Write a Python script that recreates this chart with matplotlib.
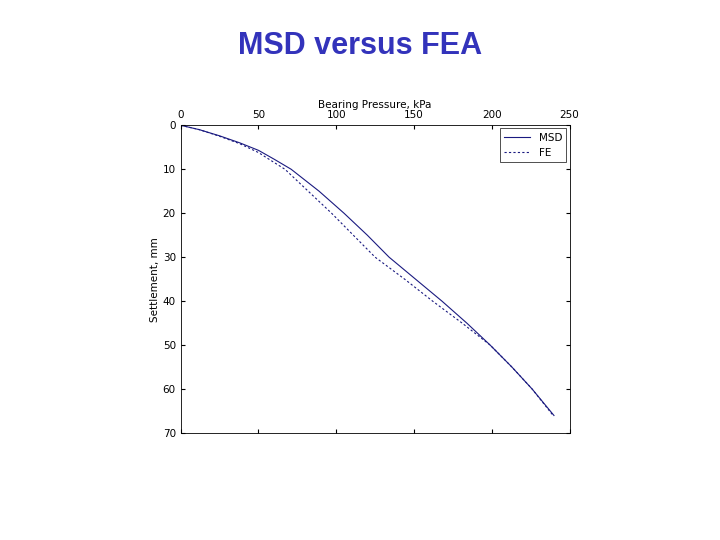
import matplotlib
matplotlib.use("Agg")
import matplotlib.pyplot as plt

# bearing pressure (kPa) vs settlement (mm)
msd_p = [0, 12, 25, 38, 50, 60, 71, 89, 105, 120, 134, 151, 168, 184, 199, 213, 226, 240]
msd_s = [0, 1, 2.4, 4, 5.7, 7.7, 10, 15, 20, 25, 30, 35, 40, 45, 50, 55, 60, 66]
fe_p = [0, 12, 25, 38, 50, 58, 67, 82, 97, 111, 125, 144, 162, 181, 199, 213, 226, 239]
fe_s = [0, 1, 2.5, 4.2, 6.2, 8, 10, 15, 20, 25, 30, 35, 40, 45, 50, 55, 60, 65.8]

fig = plt.figure(figsize=(7.2, 5.4), dpi=100)
fig.text(0.5, 0.915, "MSD versus FEA", ha="center", va="center",
         fontsize=22, fontweight="bold", color="#3333bb",
         family="Liberation Sans")

ax = fig.add_axes([0.251, 0.198, 0.540, 0.570])
ax.plot(msd_p, msd_s, color="#1a1a80", lw=0.8, label="MSD")
ax.plot(fe_p, fe_s, color="#1a1a80", lw=0.8, ls=(0, (2, 2)), label="FE")
ax.set_xlim(0, 250)
ax.set_ylim(70, 0)
ax.xaxis.tick_top()
ax.xaxis.set_label_position("top")
ax.tick_params(direction="in", labelsize=7.5, length=3, top=True, bottom=True,
               left=True, right=True)
ax.set_xlabel("Bearing Pressure, kPa", fontsize=7.5, labelpad=2)
ax.set_ylabel("Settlement, mm", fontsize=7.5, labelpad=2)
for sp in ax.spines.values():
    sp.set_linewidth(0.6)
leg = ax.legend(loc="upper right", fontsize=7.5, fancybox=False,
                edgecolor="black", handlelength=2.5, borderaxespad=0.3)
leg.get_frame().set_linewidth(0.6)

fig.savefig("out.png", dpi=100)
